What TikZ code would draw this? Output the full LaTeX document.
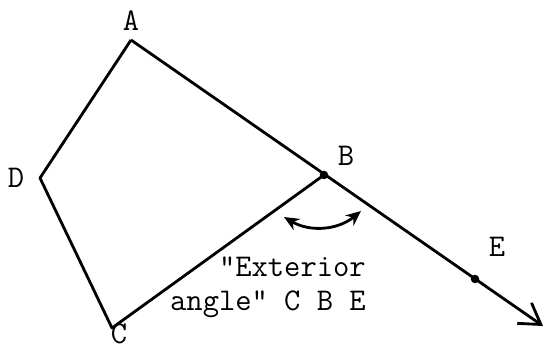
\documentclass[tikz,border=0pt]{standalone}
\usetikzlibrary{arrows.meta}
\begin{document}
\begin{tikzpicture}[x=0.02cm,y=-0.02cm,font=\ttfamily\fontsize{18}{19}\selectfont,
  ln/.style={line width=1.6pt,line join=round},
  dot/.style={circle,fill,inner sep=0pt,minimum size=0.17cm}]
\useasboundingbox (0,0) rectangle (544,350);
\coordinate (a) at (131,40);
\coordinate (d) at (40,178);
\coordinate (c) at (112,328);
\coordinate (b) at (324,175);
\coordinate (e) at (475,279);
\coordinate (t) at (543,326);
\coordinate (l) at (284,217);
\coordinate (r) at (361,211);
\draw[ln] (a) -- (d) -- (c) -- (b);
\draw[ln,-{Straight Barb[length=4mm,width=5mm]}] (a) -- (t);
\draw[ln,{Stealth[length=3mm,width=2.6mm]}-{Stealth[length=3mm,width=2.6mm]}] (l) to[bend right=35] (r);
\node[dot] (bp) at (b) {};
\node[dot] (ep) at (e) {};
\node (la) at (131,21) {A};
\node (lb) at (346,156) {B};
\node[inner sep=1pt] (lc) at (119,334) {C};
\node (ld) at (16,178) {D};
\node (le) at (497,247) {E};
\node[align=right,anchor=north east,inner sep=0pt] (txt) at (366,257) {"Exterior\\angle" C B E};
\end{tikzpicture}
\end{document}
